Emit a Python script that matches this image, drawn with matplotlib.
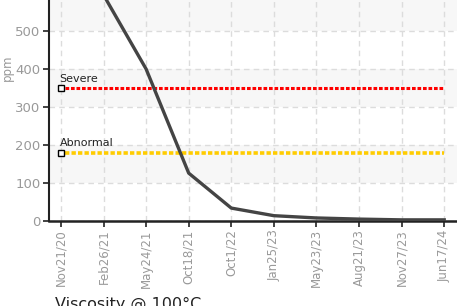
import matplotlib
matplotlib.use("Agg")
import matplotlib.pyplot as plt
from matplotlib import font_manager

# -------------------------
# Data
# -------------------------
dates = ["Nov21/20", "Feb26/21", "May24/21", "Oct18/21", "Oct1/22",
         "Jan25/23", "May23/23", "Aug21/23", "Nov27/23", "Jun17/24"]
ppm = [780, 595, 400, 126, 34, 14, 8, 5, 3, 3]

severe_level = 350
abnormal_level = 180
y_ticks = [0, 100, 200, 300, 400, 500]

names = {f.name for f in font_manager.fontManager.ttflist}
tick_font = "Liberation Sans Narrow" if "Liberation Sans Narrow" in names else "DejaVu Sans"

fig = plt.figure(figsize=(4.57, 3.06), dpi=100)
ax = fig.add_axes([49 / 457, 85 / 306, 408 / 457, 266 / 306])

x = list(range(len(dates)))

# alternating bands
for lo in [100, 300, 500]:
    ax.axhspan(lo, lo + 100, color="#f7f7f7", zorder=0, lw=0)

ax.grid(True, color="#dcdcdc", linestyle=(0, (4, 3)), linewidth=1.0, zorder=1)

# thresholds
ax.plot([0.1, x[-1]], [severe_level] * 2, color="#ff0000", lw=2.2,
        linestyle=(0, (1.2, 0.6)), zorder=3)
ax.plot([0.1, x[-1]], [abnormal_level] * 2, color="#ffcc00", lw=2.6,
        linestyle=(0, (1.2, 0.6)), zorder=3)
for lvl, name in [(severe_level, "Severe"), (abnormal_level, "Abnormal")]:
    ax.plot([0], [lvl], marker="s", ms=4.5, mfc="white", mec="black", mew=1.0, zorder=5)
    ax.annotate(name, (0, lvl), xytext=(-1, 3), textcoords="offset points",
                fontsize=8, color="#222222", family=tick_font, va="bottom", ha="left")

ax.plot(x, ppm, color="#444444", lw=2.4, zorder=4, solid_joinstyle="round")

ax.set_xlim(-0.28, 9.3)
ax.set_ylim(0, 700)
ax.set_xticks(x)
ax.set_xticklabels(dates, rotation=90, family=tick_font, fontsize=8.5, color="#999999")
ax.set_yticks(y_ticks)
ax.set_yticklabels([str(v) for v in y_ticks], family=tick_font, fontsize=9.5, color="#999999")
ax.tick_params(axis="both", direction="out", length=4, width=1.2, color="#222222", pad=2)
ax.set_ylabel("ppm", family=tick_font, fontsize=8.5, color="#999999")
ax.yaxis.set_label_coords(-0.086, 0.575)

for s in ["top", "right"]:
    ax.spines[s].set_visible(False)
ax.spines["left"].set_linewidth(1.5)
ax.spines["left"].set_color("#222222")
ax.spines["bottom"].set_linewidth(1.8)
ax.spines["bottom"].set_color("#222222")

fig.text(55 / 457, 9 / 306, "Viscosity @ 100°C", fontsize=11.5, color="#222222",
         va="top", ha="left")

fig.savefig("out.png", dpi=100)
